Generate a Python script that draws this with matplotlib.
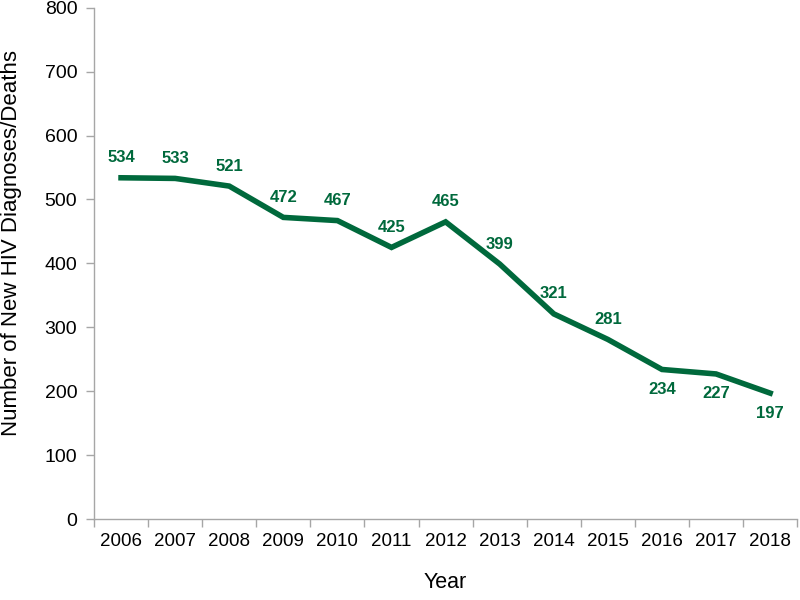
import matplotlib
matplotlib.use("Agg")
import matplotlib.pyplot as plt
import numpy as np

plt.rcParams['font.family'] = ['Liberation Sans', 'DejaVu Sans']

years = ['2006', '2007', '2008', '2009', '2010', '2011', '2012',
         '2013', '2014', '2015', '2016', '2017', '2018']
values = [534, 533, 521, 472, 467, 425, 465, 399, 321, 281, 234, 227, 197]
below = {'2016', '2017', '2018'}

green = '#00693C'
grey = '#A6A6A6'

fig = plt.figure(figsize=(8, 6), dpi=100)
ax = fig.add_axes([0.1175, 0.135, 0.879, 0.852])

x = np.arange(len(years))
ax.plot(x, values, color=green, linewidth=4, solid_joinstyle='miter')

for xi, yr, v in zip(x, years, values):
    if yr in below:
        ax.annotate(str(v), (xi, v), xytext=(0, -9), textcoords='offset points',
                    ha='center', va='top', color=green, fontsize=12, fontweight='bold')
    else:
        ax.annotate(str(v), (xi, v), xytext=(0, 9), textcoords='offset points',
                    ha='center', va='bottom', color=green, fontsize=12, fontweight='bold')

ax.set_xlim(-0.5, len(years) - 0.5)
ax.set_ylim(0, 800)
ax.set_yticks(range(0, 801, 100))
ax.set_xticks(x)
ax.set_xticklabels(years)
ax.set_xticks(np.arange(-0.5, len(years), 1), minor=True)
ax.tick_params(axis='x', which='major', length=0, labelsize=13.5, pad=10)
ax.tick_params(axis='x', which='minor', length=6, color=grey, width=1)
ax.tick_params(axis='y', length=6, color=grey, width=1, labelsize=14, pad=6)

for side in ['top', 'right']:
    ax.spines[side].set_visible(False)
for side in ['left', 'bottom']:
    ax.spines[side].set_color(grey)
    ax.spines[side].set_linewidth(1)

ax.set_xlabel('Year', fontsize=15.5, labelpad=16)
ax.set_ylabel('Number of New HIV Diagnoses/Deaths', fontsize=16, va='center')
ax.yaxis.set_label_coords(-0.117, 0.54)

fig.savefig('out.png', dpi=100)
